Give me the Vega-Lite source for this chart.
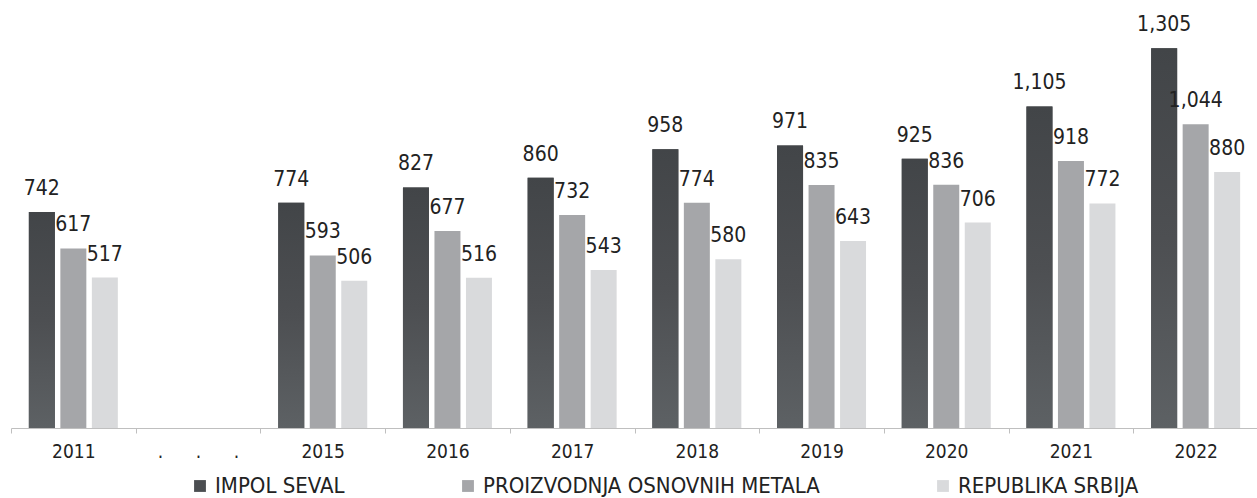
{
  "$schema": "https://vega.github.io/schema/vega-lite/v6.json",
  "width": 1247,
  "height": 428,
  "padding": {"left": 10, "top": 0, "right": 0, "bottom": 0},
  "autosize": {"type": "pad"},
  "background": "white",
  "config": {"view": {"stroke": null}, "font": "DejaVu Sans Condensed"},
  "data": {
    "values": [
      {"year": "2011", "series": "IMPOL SEVAL", "value": 742},
      {"year": "2011", "series": "PROIZVODNJA OSNOVNIH METALA", "value": 617},
      {"year": "2011", "series": "REPUBLIKA SRBIJA", "value": 517},
      {"year": "2015", "series": "IMPOL SEVAL", "value": 774},
      {"year": "2015", "series": "PROIZVODNJA OSNOVNIH METALA", "value": 593},
      {"year": "2015", "series": "REPUBLIKA SRBIJA", "value": 506},
      {"year": "2016", "series": "IMPOL SEVAL", "value": 827},
      {"year": "2016", "series": "PROIZVODNJA OSNOVNIH METALA", "value": 677},
      {"year": "2016", "series": "REPUBLIKA SRBIJA", "value": 516},
      {"year": "2017", "series": "IMPOL SEVAL", "value": 860},
      {"year": "2017", "series": "PROIZVODNJA OSNOVNIH METALA", "value": 732},
      {"year": "2017", "series": "REPUBLIKA SRBIJA", "value": 543},
      {"year": "2018", "series": "IMPOL SEVAL", "value": 958},
      {"year": "2018", "series": "PROIZVODNJA OSNOVNIH METALA", "value": 774},
      {"year": "2018", "series": "REPUBLIKA SRBIJA", "value": 580},
      {"year": "2019", "series": "IMPOL SEVAL", "value": 971},
      {"year": "2019", "series": "PROIZVODNJA OSNOVNIH METALA", "value": 835},
      {"year": "2019", "series": "REPUBLIKA SRBIJA", "value": 643},
      {"year": "2020", "series": "IMPOL SEVAL", "value": 925},
      {"year": "2020", "series": "PROIZVODNJA OSNOVNIH METALA", "value": 836},
      {"year": "2020", "series": "REPUBLIKA SRBIJA", "value": 706},
      {"year": "2021", "series": "IMPOL SEVAL", "value": 1105},
      {"year": "2021", "series": "PROIZVODNJA OSNOVNIH METALA", "value": 918},
      {"year": "2021", "series": "REPUBLIKA SRBIJA", "value": 772},
      {"year": "2022", "series": "IMPOL SEVAL", "value": 1305},
      {"year": "2022", "series": "PROIZVODNJA OSNOVNIH METALA", "value": 1044},
      {"year": "2022", "series": "REPUBLIKA SRBIJA", "value": 880}
    ]
  },
  "encoding": {
    "x": {
      "field": "year",
      "type": "nominal",
      "scale": {
        "domain": ["2011", ".\u00a0\u00a0\u00a0\u00a0\u00a0\u00a0.\u00a0\u00a0\u00a0\u00a0\u00a0\u00a0.", "2015", "2016", "2017", "2018", "2019", "2020", "2021", "2022"],
        "paddingInner": 0,
        "paddingOuter": 0
      },
      "axis": {
        "title": null,
        "labelAngle": 0,
        "tickBand": "extent",
        "domainColor": "#bfbfbf",
        "tickColor": "#bfbfbf",
        "tickSize": 5,
        "labelFontSize": 19,
        "labelColor": "#222222",
        "labelPadding": 9
      }
    },
    "xOffset": {
      "field": "series",
      "type": "nominal",
      "scale": {
        "domain": ["IMPOL SEVAL", "PROIZVODNJA OSNOVNIH METALA", "REPUBLIKA SRBIJA"],
        "paddingInner": 0.175,
        "paddingOuter": 0.567
      }
    },
    "y": {
      "field": "value",
      "type": "quantitative",
      "scale": {"domain": [0, 1471], "nice": false},
      "axis": null
    }
  },
  "layer": [
    {
      "mark": {"type": "bar"},
      "encoding": {
        "color": {
          "field": "series",
          "type": "nominal",
          "scale": {
            "domain": ["IMPOL SEVAL", "PROIZVODNJA OSNOVNIH METALA", "REPUBLIKA SRBIJA"],
            "range": ["#4b4e51", "#a5a6a9", "#d9dadc"]
          },
          "legend": {
            "title": null,
            "orient": "none",
            "legendX": 178,
            "legendY": 475,
            "direction": "horizontal",
            "symbolType": "square",
            "symbolSize": 140,
            "symbolStrokeWidth": 0,
            "labelFontSize": 22,
            "labelColor": "#222222",
            "labelOffset": 4,
            "columnPadding": 112,
            "labelLimit": 600
          }
        }
      }
    },
    {
      "transform": [{"filter": "datum.series === 'IMPOL SEVAL'"}],
      "mark": {
        "type": "bar",
        "color": {
          "gradient": "linear",
          "x1": 0, "y1": 0, "x2": 0, "y2": 1,
          "stops": [
            {"offset": 0, "color": "#424548"},
            {"offset": 0.5, "color": "#4d4f52"},
            {"offset": 1, "color": "#5d6164"}
          ]
        }
      }
    },
    {
      "mark": {"type": "text", "baseline": "alphabetic", "dy": -17, "fontSize": 21, "color": "#222222"},
      "encoding": {
        "text": {"field": "value", "type": "quantitative", "format": ","}
      }
    }
  ]
}
